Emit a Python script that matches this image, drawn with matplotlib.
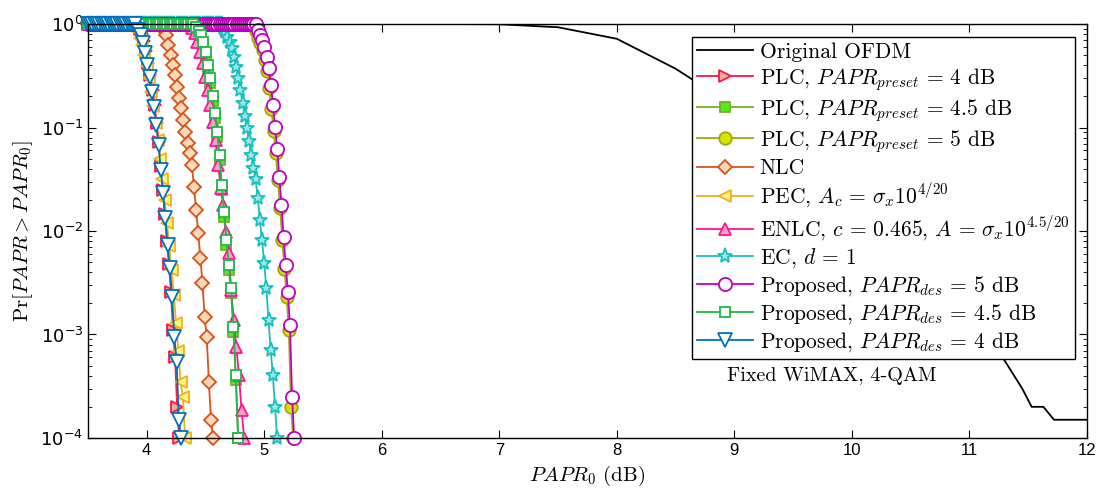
import numpy as np
import matplotlib
matplotlib.use("Agg")
import matplotlib.pyplot as plt
from matplotlib.font_manager import FontProperties

plt.rcParams['mathtext.fontset'] = 'cm'
plt.rcParams['axes.unicode_minus'] = False

# original OFDM CCDF (no markers)
ofdm_x = [3.5, 4.0, 5.0, 6.0, 6.5, 7.0, 7.5, 8.0, 8.5, 9.0, 9.5, 10.0, 10.5, 11.0,
          11.3, 11.45, 11.53, 11.63, 11.72, 12.0]
ofdm_y = [1.0, 1.0, 1.0, 1.0, 1.0, 0.995, 0.93, 0.72, 0.37, 0.16, 0.06, 0.02, 0.006,
          0.0016, 5.6e-4, 3e-4, 2e-4, 2e-4, 1.5e-4, 1.5e-4]

# each clipped curve: Pr = 1 up to start, then the falling tail, start/end in dB
plc4_rng = (3.945, 4.276)
plc4 = [0.9, 0.8, 0.68, 0.55, 0.42, 0.32, 0.23, 0.165, 0.11, 0.072, 0.042, 0.025,
        0.0145, 0.008, 0.0048, 0.0026, 0.0011, 0.0006, 0.0002, 0.0001]
plc45_rng = (4.421, 4.778)
plc45 = [0.9, 0.8, 0.72, 0.61, 0.48, 0.36, 0.27, 0.18, 0.124, 0.081, 0.049, 0.025,
         0.0138, 0.0074, 0.0042, 0.0025, 0.00105, 0.00036, 0.0001]
plc5_rng = (4.931, 5.246)
plc5 = [0.85, 0.74, 0.65, 0.56, 0.45, 0.35, 0.24, 0.152, 0.093, 0.057, 0.031, 0.0165,
        0.0081, 0.0043, 0.0023, 0.0011, 0.0002, 0.0001]
nlc_rng = (4.149, 4.565)
nlc = [0.875, 0.783, 0.627, 0.502, 0.402, 0.322, 0.246, 0.193, 0.154, 0.118, 0.0905,
       0.0708, 0.0567, 0.0434, 0.0266, 0.016, 0.00957, 0.00548, 0.00315, 0.00148,
       0.000946, 0.000348, 0.000149, 0.0001]
pec_rng = (3.902, 4.327)
pec = [0.92, 0.85, 0.74, 0.62, 0.5, 0.39, 0.3, 0.22, 0.16, 0.11, 0.075, 0.05, 0.032,
       0.02, 0.012, 0.0072, 0.0042, 0.0024, 0.0013, 0.0007, 0.00035, 0.00025, 0.0001]
enlc_rng = (4.387, 4.829)
enlc = [0.915, 0.818, 0.67, 0.536, 0.42, 0.308, 0.23, 0.165, 0.113, 0.0757, 0.0434,
        0.026, 0.0178, 0.00978, 0.00613, 0.00269, 0.00138, 0.000757, 0.000406,
        0.000187, 0.0001]
ec_rng = (4.650, 5.110)
ec = [0.915, 0.837, 0.748, 0.67, 0.586, 0.48, 0.384, 0.301, 0.23, 0.172, 0.129,
      0.0989, 0.0741, 0.0542, 0.0406, 0.0318, 0.0208, 0.0128, 0.00818, 0.00491,
      0.00281, 0.00138, 0.000708, 0.000406, 0.0002, 0.0001]
prop5_rng = (4.948, 5.255)
prop5 = [0.875, 0.783, 0.7, 0.6, 0.48, 0.376, 0.257, 0.165, 0.101, 0.062, 0.0333,
         0.0178, 0.00875, 0.00469, 0.00258, 0.00124, 0.00025, 0.0001]
prop45_rng = (4.421, 4.778)
prop45 = [0.935, 0.856, 0.783, 0.67, 0.536, 0.402, 0.301, 0.201, 0.138, 0.0905,
          0.0542, 0.0278, 0.0153, 0.00818, 0.00469, 0.00281, 0.00118, 0.000406, 0.0001]
prop4_rng = (3.928, 4.293)
prop4 = [0.875, 0.783, 0.655, 0.525, 0.402, 0.308, 0.22, 0.158, 0.106, 0.0678, 0.0388,
         0.0233, 0.0134, 0.00732, 0.00439, 0.0023, 0.000946, 0.000542, 0.000149, 0.0001]


def curve(rng, tail):
    xt = np.linspace(rng[0], rng[1], len(tail))
    step = xt[1] - xt[0]
    xf = np.arange(3.5, rng[0] - step / 2, step)
    return np.concatenate([xf, xt]), np.concatenate([np.ones(len(xf)), tail])


fig = plt.figure(figsize=(11.05, 4.92), dpi=100)
ax = fig.add_axes([0.0796, 0.1098, 0.904, 0.8414])

ax.plot(ofdm_x, ofdm_y, color='black', lw=1.3, label='Original OFDM')

series = [
    (plc4_rng, plc4, r'PLC, $PAPR_{preset}\,=\,4$ dB', '#ff1744', '>', '#f6a89e', 9),
    (plc45_rng, plc45, r'PLC, $PAPR_{preset}\,=\,4.5$ dB', '#77ac30', 's', '#55ee11', 6.5),
    (plc5_rng, plc5, r'PLC, $PAPR_{preset}\,=\,5$ dB', '#a2a80a', 'o', '#d2e600', 9),
    (nlc_rng, nlc, 'NLC', '#d95319', 'D', '#f7d9b8', 7.5),
    (pec_rng, pec, r'PEC, $A_c\,=\,\sigma_x 10^{4/20}$', '#edb120', '<', '#fff27a', 9),
    (enlc_rng, enlc, r'ENLC, $c\,=\,0.465$, $A\,=\,\sigma_x 10^{4.5/20}$', '#ff1493', '^', '#f7a3c8', 9),
    (ec_rng, ec, r'EC, $d\,=\,1$', '#17bfbf', '*', '#9ee6e6', 11),
    (prop5_rng, prop5, r'Proposed, $PAPR_{des}\,=\,5$ dB', '#c000c0', 'o', 'white', 9.5),
    (prop45_rng, prop45, r'Proposed, $PAPR_{des}\,=\,4.5$ dB', '#1fb84a', 's', 'white', 7.5),
    (prop4_rng, prop4, r'Proposed, $PAPR_{des}\,=\,4$ dB', '#0072bd', 'v', 'white', 9.5),
]

for rng, tail, lab, col, mk, face, ms in series:
    x, y = curve(rng, tail)
    ax.plot(x, y, color=col, lw=1.3, marker=mk, ms=ms, mfc=face, mec=col, mew=1.3,
            label=lab, clip_on=False)

ax.set_yscale('log')
ax.set_xlim(3.5, 12)
ax.set_ylim(1e-4, 1)

ax.set_xticks(range(4, 13))
ax.set_xticklabels([str(v) for v in range(4, 13)], fontfamily='Liberation Sans', fontsize=12)
yt = [1e-4, 1e-3, 1e-2, 1e-1, 1]
ax.set_yticks(yt)
ax.set_yticklabels([r'$10^{-4}$', r'$10^{-3}$', r'$10^{-2}$', r'$10^{-1}$', r'$10^{0}$'],
                   math_fontfamily='dejavusans', fontsize=13)
ax.tick_params(which='both', direction='in', top=True, right=True)
ax.tick_params(which='major', length=6)
ax.tick_params(which='minor', length=3)
ax.minorticks_on()
ax.xaxis.set_minor_locator(plt.NullLocator())
for s in ax.spines.values():
    s.set_linewidth(1.0)

ax.set_xlabel(r'$PAPR_0$ (dB)', fontsize=15, family='cmr10')
ax.set_ylabel(r'$\mathrm{Pr}[PAPR > PAPR_0]$', fontsize=15)

ax.text(8.94, 4e-4, 'Fixed WiMAX, 4-QAM', family='cmr10', fontsize=14.5, va='center', ha='left')

leg = ax.legend(loc='upper right', bbox_to_anchor=(0.988, 0.969), numpoints=1,
                prop=FontProperties(family='cmr10', size=15.5, math_fontfamily='cm'),
                handlelength=2.6, handletextpad=0.3, borderpad=0.25, labelspacing=0.19,
                fancybox=False, framealpha=1, edgecolor='black', borderaxespad=0)
leg.get_frame().set_linewidth(1.0)

fig.savefig('out.png', dpi=100)
